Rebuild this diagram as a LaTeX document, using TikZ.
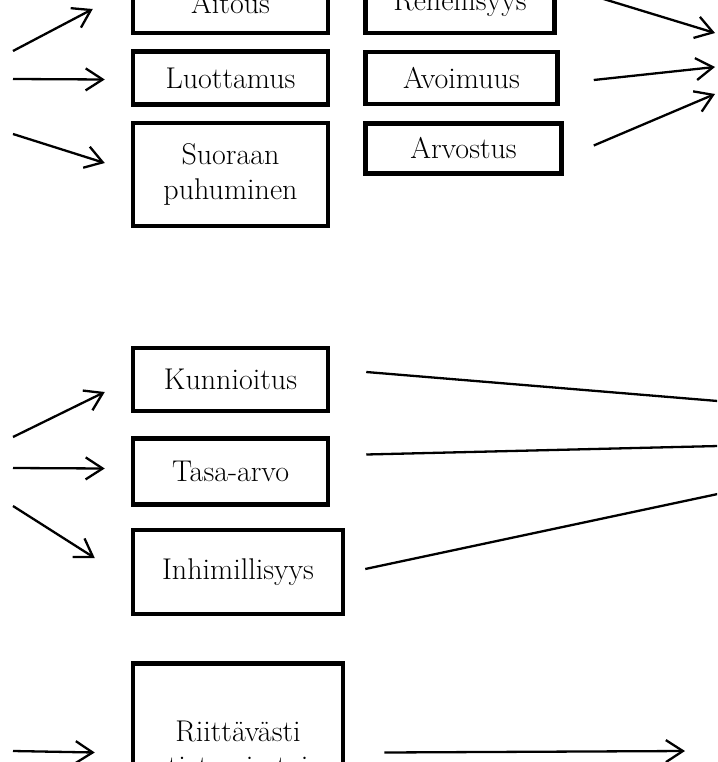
\documentclass[tikz,border=0pt]{standalone}
\usepackage{tikz}
\usetikzlibrary{arrows.meta, positioning, calc}

\begin{document}
\begin{tikzpicture}[
  x=1pt, y=-1pt,
  box/.style={draw, line width=4.5pt, minimum width=195pt, inner sep=4pt,
              align=center, font=\fontsize{30}{35}\selectfont},
  arrow/.style={-{Straight Barb[length=17pt, width=22pt]}, line width=2.3pt},
  link/.style={line width=2.3pt},
]
\path[use as bounding box, clip] (0,0) rectangle (717,762);

% first group
\node[box, minimum height=60pt] (aitous) at (230.5,3) {Aitous};
\node[box, minimum height=53pt, below=14pt of aitous] (luott) {Luottamus};
\node[box, minimum height=103pt, below=14pt of luott] (suoraan) {Suoraan\\puhuminen};
\node[box, minimum width=189pt, minimum height=60pt, right=33pt of aitous] (rehell) {Rehellisyys};
\node[box, minimum width=192pt, minimum height=52pt, right=33pt of luott] (avoim) {Avoimuus};
\node[box, minimum width=196pt, minimum height=50pt,
      below=15pt of avoim.south west, anchor=north west] (arvost) {Arvostus};

\coordinate (srcA) at (13,51);
\coordinate (srcL) at (13,79);
\coordinate (srcS) at (13,134);
\coordinate (goalR) at (715,33);
\coordinate (goalO) at (715,67);
\coordinate (goalV) at (715,94);

\draw[arrow] (srcA) -- ($(aitous.west)+(-38,6)$);
\draw[arrow] (srcL) -- ($(luott.west)+(-26,1.5)$);
\draw[arrow] (srcS) -- ($(suoraan.west)+(-26,-11.5)$);
\draw[arrow] ($(rehell.east)+(37,-7)$) -- (goalR);
\draw[arrow] ($(avoim.east)+(34,2)$) -- (goalO);
\draw[arrow] ($(arvost.east)+(30,-3)$) -- (goalV);

% second group
\node[box, minimum height=63pt] (kunn) at (230.5,379.5) {Kunnioitus};
\node[box, minimum height=66pt, below=23pt of kunn] (tasa) {Tasa-arvo};
\node[box, minimum width=210pt, minimum height=84pt,
      below=21pt of tasa.south west, anchor=north west] (inhim) {Inhimillisyys};

\coordinate (srcK) at (13,437);
\coordinate (srcT) at (13,468);
\coordinate (srcI) at (13,506);
\coordinate (goalK) at (760,404.5);
\coordinate (goalT) at (760,445);
\coordinate (goalI) at (760,485);

\draw[arrow] (srcK) -- ($(kunn.west)+(-26,12.5)$);
\draw[arrow] (srcT) -- ($(tasa.west)+(-26,-3)$);
\draw[arrow] (srcI) -- ($(inhim.west)+(-36,-14)$);
\draw[link] ($(kunn.east)+(36,-7.5)$) -- (goalK);
\draw[link] ($(tasa.east)+(36,-17)$) -- (goalT);
\draw[link] ($(inhim.east)+(20,-3)$) -- (goalI);

% third group
\node[box, minimum width=210pt, minimum height=176pt,
      below=45pt of inhim.south west, anchor=north west] (riitt) {Riittävästi\\tietoa ja tai};

\coordinate (srcR) at (13,751);
\coordinate (goalX) at (685,751);

\draw[arrow] (srcR) -- ($(riitt.west)+(-36,1)$);
\draw[arrow] ($(riitt.east)+(39,1)$) -- (goalX);
\end{tikzpicture}
\end{document}
